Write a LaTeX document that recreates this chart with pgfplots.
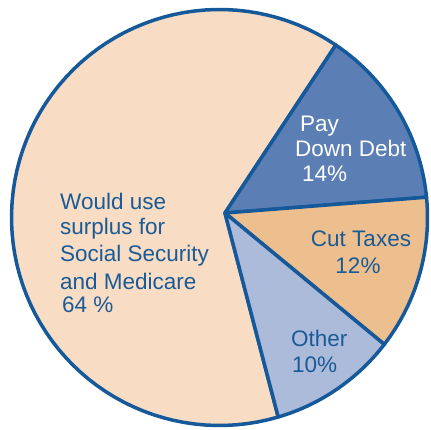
\documentclass[border=0pt]{standalone}
\usepackage{pgfplots}
\pgfplotsset{compat=1.18}
\usepackage{fontspec}
\setmainfont{Liberation Sans}
\definecolor{ss}{HTML}{F8DCC3}
\definecolor{debt}{HTML}{5B7FB5}
\definecolor{taxes}{HTML}{EDBE8E}
\definecolor{other}{HTML}{ADBBDB}
\definecolor{outl}{HTML}{15599A}
\definecolor{txt}{HTML}{1A5B97}
\begin{document}
\begin{tikzpicture}
\begin{axis}[
  width=431pt, height=430pt, scale only axis,
  xmin=0, xmax=431, ymin=0, ymax=430,
  hide axis, clip=false,
]
\path (axis cs:0,0) rectangle (axis cs:431,430);
% shares (percent): Debt 14, Taxes 12, Other 10, Social Security & Medicare 64; start angle 56 deg, clockwise
\pgfplotsset{wedge/.style={draw=outl, line width=3.5pt, line join=round, samples=80, variable=\t}}
\addplot[wedge, fill=ss, domain={56-100*3.6}:{56-36*3.6}]
  ({219.5+208*cos(\t)}, {212.5+208*sin(\t)}) -- (axis cs:225,217) -- cycle;
\addplot[wedge, fill=debt, domain={56-14*3.6}:{56}]
  ({219.5+208*cos(\t)}, {212.5+208*sin(\t)}) -- (axis cs:225,217) -- cycle;
\addplot[wedge, fill=taxes, domain={56-26*3.6}:{56-14*3.6}]
  ({219.5+208*cos(\t)}, {212.5+208*sin(\t)}) -- (axis cs:225,217) -- cycle;
\addplot[wedge, fill=other, domain={56-36*3.6}:{56-26*3.6}]
  ({219.5+208*cos(\t)}, {212.5+208*sin(\t)}) -- (axis cs:225,217) -- cycle;

\begin{scope}[every node/.style={anchor=base west, inner sep=0pt, font=\fontsize{22.5}{26}\selectfont}]
\node[text=txt] at (axis cs:60,220) {Would use};
\node[text=txt] at (axis cs:60,195) {surplus for};
\node[text=txt] at (axis cs:60,168) {Social Security};
\node[text=txt] at (axis cs:60,140) {and Medicare};
\node[text=txt] at (axis cs:62,117) {64 \%};
\node[text=white] at (axis cs:300,298) {Pay};
\node[text=white] at (axis cs:295,273) {Down Debt};
\node[text=white] at (axis cs:302,248) {14\%};
\node[text=txt, anchor=base] at (axis cs:361,183) {Cut Taxes};
\node[text=txt, anchor=base] at (axis cs:358,156) {12\%};
\node[text=txt] at (axis cs:291,83) {Other};
\node[text=txt] at (axis cs:292,57) {10\%};
\end{scope}
\end{axis}
\end{tikzpicture}
\end{document}
